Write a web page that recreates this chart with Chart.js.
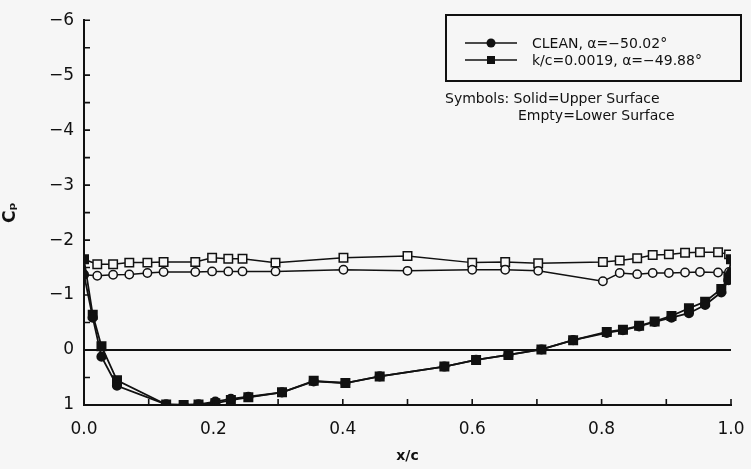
<!DOCTYPE html>
<html>
<head>
<meta charset="utf-8">
<script src="https://cdn.jsdelivr.net/npm/chart.js@4"></script>
<style>
  body { margin: 0; background: #f6f6f6; overflow: hidden; }
  #wrap { position: relative; width: 751px; height: 469px; font-family: "DejaVu Sans", sans-serif; color: #111; }
  #legend { position: absolute; left: 445px; top: 14px; width: 293px; height: 64px; border: 2px solid #111; }
  .row { position: absolute; left: 16px; height: 16px; font-size: 14px; line-height: 16px; white-space: nowrap; }
  .row svg { position: absolute; left: 0; top: 0; }
  .row span { position: absolute; left: 69px; top: 0; }
  .note { position: absolute; font-size: 14px; line-height: 16px; white-space: nowrap; }
</style>
</head>
<body>
<div id="wrap">
  <canvas id="cp-chart" width="751" height="469"></canvas>
  <div id="legend">
    <div class="row" style="top:19px">
      <svg width="56" height="16"><line x1="2" y1="8" x2="54" y2="8" stroke="#111" stroke-width="1.6"/><circle cx="28" cy="8" r="4.5" fill="#111"/></svg>
      <span>CLEAN, α=−50.02°</span>
    </div>
    <div class="row" style="top:36px">
      <svg width="56" height="16"><line x1="2" y1="8" x2="54" y2="8" stroke="#111" stroke-width="1.6"/><rect x="24" y="4" width="8" height="8" fill="#111"/></svg>
      <span>k/c=0.0019, α=−49.88°</span>
    </div>
  </div>
  <div class="note" style="left:445px; top:90px">Symbols: Solid=Upper Surface</div>
  <div class="note" style="left:518px; top:107px">Empty=Lower Surface</div>
</div>
<script>
// upper surface stations (solid symbols)
const xUpper = [0, 0.0135, 0.027, 0.051, 0.127, 0.154, 0.177, 0.203, 0.227, 0.254, 0.306, 0.355, 0.404, 0.457,
  0.557, 0.606, 0.656, 0.707, 0.756, 0.808, 0.833, 0.858, 0.882, 0.908, 0.935, 0.960, 0.985, 0.996, 1.0];
const cpUpperClean = [-1.37, -0.59, 0.12, 0.65, 0.99, 1.0, 0.99, 0.94, 0.89, 0.85, 0.77, 0.57, 0.60, 0.48,
  0.30, 0.18, 0.09, -0.01, -0.18, -0.31, -0.36, -0.43, -0.51, -0.59, -0.67, -0.82, -1.05, -1.27, -1.41];
const cpUpperRough = [-1.65, -0.64, -0.07, 0.55, 0.99, 1.0, 0.99, 0.97, 0.91, 0.86, 0.77, 0.56, 0.60, 0.48,
  0.30, 0.18, 0.09, -0.01, -0.18, -0.33, -0.37, -0.44, -0.52, -0.62, -0.76, -0.88, -1.11, -1.32, -1.65];

// lower surface stations (empty symbols)
const xLower = [0.0205, 0.045, 0.070, 0.098, 0.123, 0.172, 0.198, 0.223, 0.245, 0.296, 0.401, 0.500,
  0.600, 0.651, 0.702, 0.802, 0.828, 0.855, 0.879, 0.904, 0.929, 0.952, 0.980, 0.997];
const cpLowerClean = [-1.35, -1.37, -1.375, -1.40, -1.42, -1.42, -1.43, -1.43, -1.43, -1.43, -1.46, -1.44,
  -1.46, -1.46, -1.44, -1.25, -1.40, -1.38, -1.40, -1.40, -1.41, -1.42, -1.41, -1.42];
const cpLowerRough = [-1.56, -1.56, -1.59, -1.59, -1.60, -1.60, -1.68, -1.66, -1.66, -1.59, -1.68, -1.71,
  -1.59, -1.60, -1.58, -1.60, -1.63, -1.67, -1.73, -1.74, -1.77, -1.78, -1.78, -1.74];

const yTicks = [-6, -5, -4, -3, -2, -1, 0, 1];
const xTicks = [0, 0.2, 0.4, 0.6, 0.8, 1.0];

const INK = '#111';
const BG = '#f6f6f6';

function pts(xs, ys) {
  return xs.map((x, i) => ({ x: x, y: ys[i] }));
}

// lower surface closes on the leading and trailing edge points of the upper one
function lowerLoop(xs, ys, upY) {
  const n = xUpper.length - 1;
  return [{ x: xUpper[0], y: upY[0] }].concat(pts(xs, ys), [{ x: xUpper[n], y: upY[n] }]);
}

function lowerRadius(r) {
  return [0].concat(xLower.map(() => r), [0]);
}

// inward tick marks like the original plot
const innerTicks = {
  id: 'innerTicks',
  afterDraw(chart) {
    const ctx = chart.ctx, xs = chart.scales.x, ys = chart.scales.y;
    const area = chart.chartArea;
    ctx.save();
    ctx.strokeStyle = INK;
    ctx.lineWidth = 1.6;
    ctx.beginPath();
    for (let i = 0; i <= 10; i++) {
      const px = xs.getPixelForValue(i / 10);
      ctx.moveTo(px, area.bottom);
      ctx.lineTo(px, area.bottom - 6);
    }
    for (let i = 0; i <= 14; i++) {
      const py = ys.getPixelForValue(-6 + i / 2);
      ctx.moveTo(area.left, py);
      ctx.lineTo(area.left + 6, py);
    }
    ctx.stroke();
    ctx.restore();
  }
};

window.addEventListener('load', () => {
  const ctx = document.getElementById('cp-chart').getContext('2d');
  const font = { family: 'DejaVu Sans', size: 17 };

  new Chart(ctx, {
    type: 'scatter',
    data: {
      datasets: [
        {
          data: pts(xUpper, cpUpperClean), showLine: true,
          borderColor: INK, borderWidth: 1.8,
          pointStyle: 'circle', pointRadius: 4.2, pointBackgroundColor: INK, pointBorderColor: INK
        },
        {
          data: pts(xUpper, cpUpperRough), showLine: true,
          borderColor: INK, borderWidth: 1.8,
          pointStyle: 'rect', pointRadius: 5.8, pointBackgroundColor: INK, pointBorderColor: INK
        },
        {
          data: lowerLoop(xLower, cpLowerClean, cpUpperClean), showLine: true,
          borderColor: INK, borderWidth: 1.5,
          pointStyle: 'circle', pointRadius: lowerRadius(4.2), pointBorderWidth: 1.5,
          pointBackgroundColor: BG, pointBorderColor: INK
        },
        {
          data: lowerLoop(xLower, cpLowerRough, cpUpperRough), showLine: true,
          borderColor: INK, borderWidth: 1.5,
          pointStyle: 'rect', pointRadius: lowerRadius(6), pointBorderWidth: 1.5,
          pointBackgroundColor: BG, pointBorderColor: INK
        }
      ]
    },
    options: {
      responsive: false,
      animation: false,
      devicePixelRatio: 1,
      layout: { padding: { left: 0, right: 20, top: 13, bottom: 0 } },
      plugins: { legend: { display: false }, tooltip: { enabled: false } },
      scales: {
        x: {
          type: 'linear', min: 0, max: 1,
          border: { display: true, color: INK, width: 2 },
          grid: { display: false },
          afterBuildTicks: s => { s.ticks = xTicks.map(v => ({ value: v })); },
          ticks: { color: INK, font: font, padding: 6, maxRotation: 0, callback: v => v.toFixed(1) },
          title: { display: true, text: 'x/c', color: INK, font: { family: 'DejaVu Sans', size: 14, weight: 'bold' }, padding: { top: 0, bottom: 4 } },
          afterFit: s => { s.height = 64; }
        },
        y: {
          type: 'linear', min: -6, max: 1, reverse: true,
          border: { display: true, color: INK, width: 2 },
          grid: {
            drawTicks: false,
            color: c => (c.tick && c.tick.value === 0 ? INK : 'rgba(0,0,0,0)'),
            lineWidth: 2
          },
          afterBuildTicks: s => { s.ticks = yTicks.map(v => ({ value: v })); },
          ticks: { color: INK, font: font, padding: 10, callback: v => (v < 0 ? '\u2212' + Math.abs(v) : String(v)) },
          title: { display: true, text: 'C\u209A', color: INK, font: { family: 'DejaVu Sans', size: 17, weight: 'bold' }, padding: { top: 0, bottom: 2 } },
          afterFit: s => { s.width = 84; }
        }
      }
    },
    plugins: [innerTicks]
  });
});
</script>
</body>
</html>
